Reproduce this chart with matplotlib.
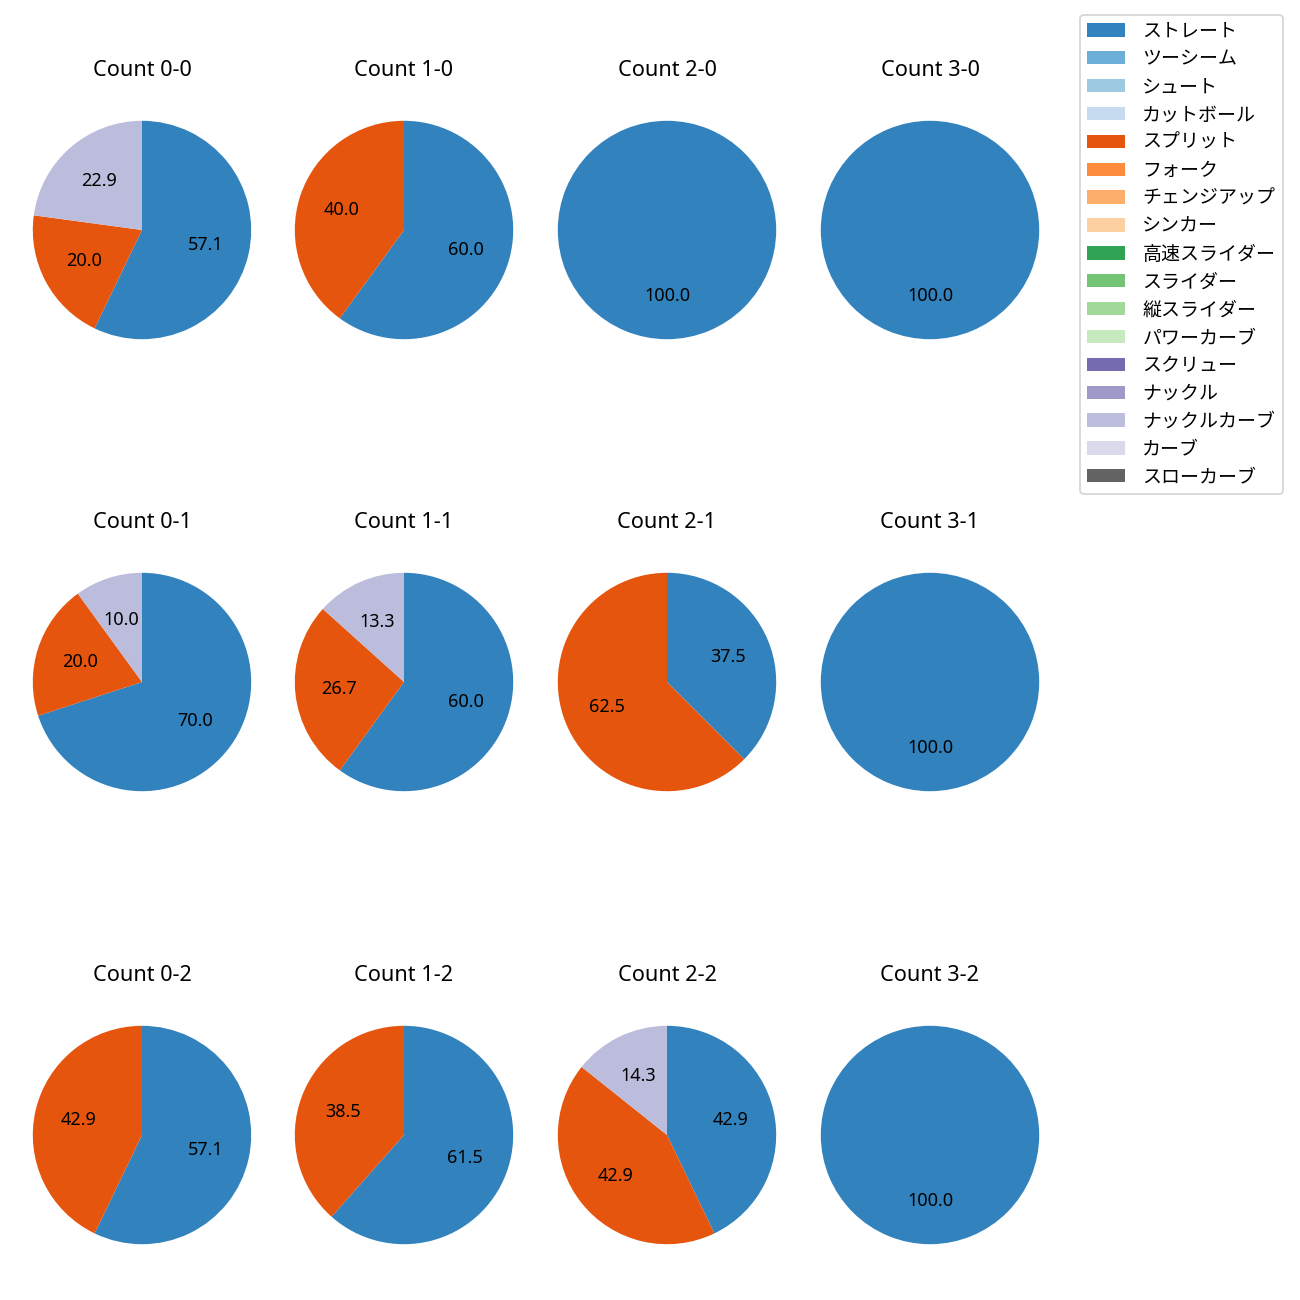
import matplotlib.pyplot as plt
from matplotlib.patches import Patch

plt.rcParams['font.family'] = ['Noto Sans', 'Noto Sans CJK JP', 'DejaVu Sans']

# pitch types (legend order) and colours
pitch_types = ['ストレート', 'ツーシーム', 'シュート', 'カットボール', 'スプリット', 'フォーク',
               'チェンジアップ', 'シンカー', '高速スライダー', 'スライダー', '縦スライダー',
               'パワーカーブ', 'スクリュー', 'ナックル', 'ナックルカーブ', 'カーブ', 'スローカーブ']
cmap = plt.get_cmap('tab20c')
colors = [cmap(i) for i in range(len(pitch_types))]

# counts per ball-strike situation: (pitch type index, count)
counts = {
    'Count 0-0': [(0, 20), (4, 7), (14, 8)],
    'Count 1-0': [(0, 3), (4, 2)],
    'Count 2-0': [(0, 1)],
    'Count 3-0': [(0, 1)],
    'Count 0-1': [(0, 7), (4, 2), (14, 1)],
    'Count 1-1': [(0, 9), (4, 4), (14, 2)],
    'Count 2-1': [(0, 3), (4, 5)],
    'Count 3-1': [(0, 1)],
    'Count 0-2': [(0, 4), (4, 3)],
    'Count 1-2': [(0, 8), (4, 5)],
    'Count 2-2': [(0, 3), (4, 3), (14, 1)],
    'Count 3-2': [(0, 1)],
}

W, H = 1300, 1300
col_x = [142, 404, 667, 930]
row_y = [230, 682, 1135]
size = 273

fig = plt.figure(figsize=(10, 10), dpi=130)

for k, (title, data) in enumerate(counts.items()):
    r, c = divmod(k, 4)
    cx, cy = col_x[c], row_y[r]
    ax = fig.add_axes([(cx - size / 2) / W, 1 - (cy + size / 2) / H, size / W, size / H])
    idx = [d[0] for d in data]
    vals = [d[1] for d in data]
    ax.pie(vals, colors=[colors[i] for i in idx], autopct='%.1f', startangle=90,
           counterclock=False, textprops={'fontsize': 10})
    ax.set_xlim(-1.25, 1.25)
    ax.set_ylim(-1.25, 1.25)
    ax.set_aspect('equal')
    ax.set_title(title, fontsize=12, pad=9.5)

handles = [Patch(facecolor=colors[i], label=pitch_types[i]) for i in range(len(pitch_types))]
fig.legend(handles=handles, loc='upper right', bbox_to_anchor=(1283 / W, 1 - 15 / H),
           borderaxespad=0, fontsize=10.5, labelspacing=0.52, handletextpad=0.9)

fig.savefig('out.png', dpi=130)
